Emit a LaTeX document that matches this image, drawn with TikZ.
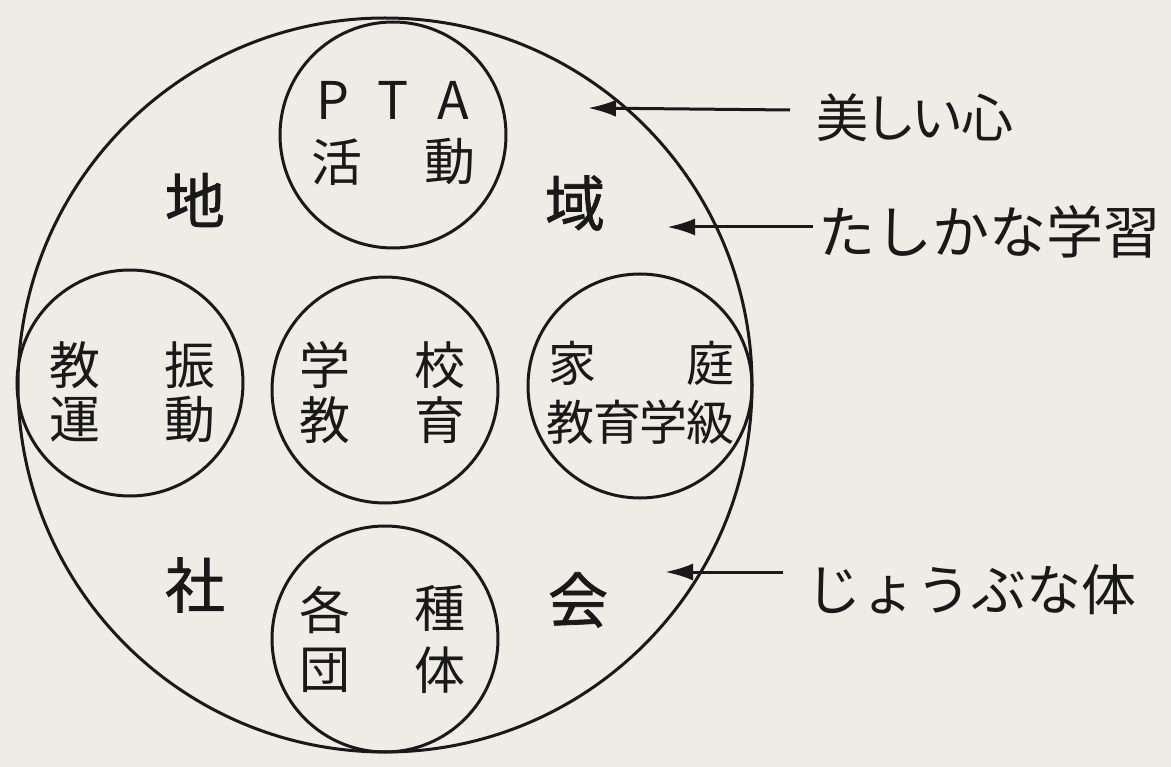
\documentclass[tikz,border=0pt]{standalone}
\usepackage{fontspec}
\usetikzlibrary{arrows.meta}
\newfontfamily\jpfont{Noto Sans CJK JP}
\newfontfamily\jpbig[FakeBold=1.2]{Noto Sans CJK JP}
\newfontfamily\jppalt[RawFeature=+palt]{Noto Sans CJK JP}
\definecolor{paper}{RGB}{237,236,229}
\definecolor{ink}{RGB}{25,25,25}
\tikzset{
  ring/.style={circle,draw=ink,line width=3pt,minimum size=#1,inner sep=0pt},
  ch/.style={inner sep=0pt,text=ink,font=\jpfont\fontsize{51}{51}\selectfont},
  bigch/.style={inner sep=0pt,text=ink,font=\jpbig\fontsize{60}{60}\selectfont},
  lat/.style={inner sep=0pt,text=ink,font=\jpfont\fontsize{52}{52}\selectfont},
  lab/.style={inner sep=0pt,anchor=west,text=ink,font=\jpfont\fontsize{55}{55}\selectfont},
  arr/.style={draw=ink,line width=3pt,-{Latex[length=28pt,width=17pt]}}
}
\begin{document}
\begin{tikzpicture}[x=1pt,y=-1pt]
\fill[paper] (0,0) rectangle (1171,767);
\useasboundingbox (0,0) rectangle (1171,767);
% circles
\node[ring=734pt] (big) at (385,385) {};
\node[ring=226pt] (pta) at (393,135) {};
\node[ring=226pt] (left) at (130,383) {};
\node[ring=226pt] (mid) at (385,390) {};
\node[ring=224pt] (right) at (640,386) {};
\node[ring=226pt] (bot) at (385,639) {};
% big characters
\node[bigch] (c1) at (195,200) {地};
\node[bigch] (c2) at (575,203) {域};
\node[bigch] (c3) at (195,585) {社};
\node[bigch] (c4) at (578,600) {会};
% PTA
\node[lat] (p1) at (333,100) {P};
\node[lat] (p2) at (393,100) {T};
\node[lat] (p3) at (453,100) {A};
\node[ch] (p4) at (337,162) {活};
\node[ch] (p5) at (450,162) {動};
% left
\node[ch] (l1) at (75,365) {教};
\node[ch] (l2) at (190,365) {振};
\node[ch] (l3) at (75,420) {運};
\node[ch] (l4) at (190,420) {動};
% middle
\node[ch] (m1) at (325,365) {学};
\node[ch] (m2) at (440,365) {校};
\node[ch] (m3) at (325,420) {教};
\node[ch] (m4) at (440,420) {育};
% right
\node[ch,font=\jpfont\fontsize{48}{48}\selectfont] (r1) at (572,363) {家};
\node[ch,font=\jpfont\fontsize{48}{48}\selectfont] (r2) at (710,363) {庭};
\node[ch,font=\jpfont\fontsize{48}{48}\selectfont] (r3) at (570,422) {教};
\node[ch,font=\jpfont\fontsize{48}{48}\selectfont] (r4) at (617,422) {育};
\node[ch,font=\jpfont\fontsize{48}{48}\selectfont] (r5) at (663,422) {学};
\node[ch,font=\jpfont\fontsize{48}{48}\selectfont] (r6) at (710,422) {級};
% bottom
\node[ch] (b1) at (325,610) {各};
\node[ch] (b2) at (440,608) {種};
\node[ch] (b3) at (325,670) {団};
\node[ch] (b4) at (440,670) {体};
% labels
\node[lab,font=\jppalt\fontsize{52}{52}\selectfont] (lab1) at (816,118) {美しい心};
\node[lab,font=\jpfont\fontsize{57}{57}\selectfont] (lab2) at (818,232) {たしかな学習};
\node[lab] (lab3) at (806,590) {じょうぶな体};
\coordinate (t1) at (588,108);
\coordinate (t2) at (667,227);
\coordinate (t3) at (665,572);
\draw[arr] ([xshift=-26pt,yshift=8pt]lab1.west) -- (t1);
\draw[arr] ([xshift=-5pt,yshift=5pt]lab2.west) -- (t2);
\draw[arr] ([xshift=-23pt,yshift=18pt]lab3.west) -- (t3);
\end{tikzpicture}
\end{document}
